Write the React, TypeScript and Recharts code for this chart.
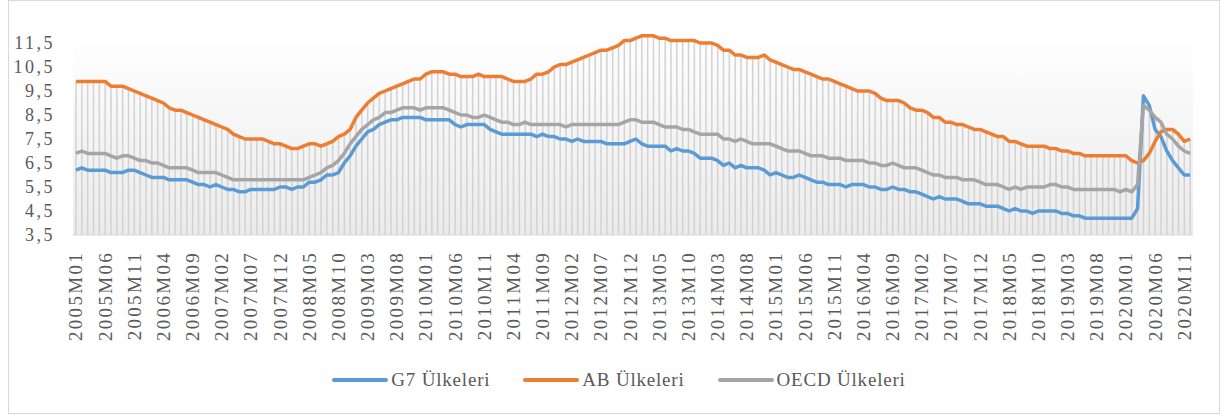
import React from 'react';
import { ComposedChart, Line, Bar, XAxis, YAxis, CartesianGrid, Legend } from 'recharts';

// Monthly categories 2005M01 .. 2020M12
const years: number[] = [2005, 2006, 2007, 2008, 2009, 2010, 2011, 2012, 2013, 2014, 2015, 2016, 2017, 2018, 2019, 2020];
const monthCodes: string[] = ['01', '02', '03', '04', '05', '06', '07', '08', '09', '10', '11', '12'];
const months: string[] = [];
years.forEach((y) => monthCodes.forEach((m) => months.push(`${y}M${m}`)));

const g7Values: number[] = [
  6.2, 6.3, 6.2, 6.2, 6.2, 6.2, 6.1, 6.1, 6.1, 6.2,
  6.2, 6.1, 6.0, 5.9, 5.9, 5.9, 5.8, 5.8, 5.8, 5.8,
  5.7, 5.6, 5.6, 5.5, 5.6, 5.5, 5.4, 5.4, 5.3, 5.3,
  5.4, 5.4, 5.4, 5.4, 5.4, 5.5, 5.5, 5.4, 5.5, 5.5,
  5.7, 5.7, 5.8, 6.0, 6.0, 6.1, 6.5, 6.8, 7.2, 7.5,
  7.8, 7.9, 8.1, 8.2, 8.3, 8.3, 8.4, 8.4, 8.4, 8.4,
  8.3, 8.3, 8.3, 8.3, 8.3, 8.1, 8.0, 8.1, 8.1, 8.1,
  8.1, 7.9, 7.8, 7.7, 7.7, 7.7, 7.7, 7.7, 7.7, 7.6,
  7.7, 7.6, 7.6, 7.5, 7.5, 7.4, 7.5, 7.4, 7.4, 7.4,
  7.4, 7.3, 7.3, 7.3, 7.3, 7.4, 7.5, 7.3, 7.2, 7.2,
  7.2, 7.2, 7.0, 7.1, 7.0, 7.0, 6.9, 6.7, 6.7, 6.7,
  6.6, 6.4, 6.5, 6.3, 6.4, 6.3, 6.3, 6.3, 6.2, 6.0,
  6.1, 6.0, 5.9, 5.9, 6.0, 5.9, 5.8, 5.7, 5.7, 5.6,
  5.6, 5.6, 5.5, 5.6, 5.6, 5.6, 5.5, 5.5, 5.4, 5.4,
  5.5, 5.4, 5.4, 5.3, 5.3, 5.2, 5.1, 5.0, 5.1, 5.0,
  5.0, 5.0, 4.9, 4.8, 4.8, 4.8, 4.7, 4.7, 4.7, 4.6,
  4.5, 4.6, 4.5, 4.5, 4.4, 4.5, 4.5, 4.5, 4.5, 4.4,
  4.4, 4.3, 4.3, 4.2, 4.2, 4.2, 4.2, 4.2, 4.2, 4.2,
  4.2, 4.2, 4.6, 9.3, 8.9, 7.9, 7.6, 7.0, 6.6, 6.3,
  6.0, 6.0,
];

const abValues: number[] = [
  9.9, 9.9, 9.9, 9.9, 9.9, 9.9, 9.7, 9.7, 9.7, 9.6,
  9.5, 9.4, 9.3, 9.2, 9.1, 9.0, 8.8, 8.7, 8.7, 8.6,
  8.5, 8.4, 8.3, 8.2, 8.1, 8.0, 7.9, 7.7, 7.6, 7.5,
  7.5, 7.5, 7.5, 7.4, 7.3, 7.3, 7.2, 7.1, 7.1, 7.2,
  7.3, 7.3, 7.2, 7.3, 7.4, 7.6, 7.7, 7.9, 8.4, 8.7,
  9.0, 9.2, 9.4, 9.5, 9.6, 9.7, 9.8, 9.9, 10.0, 10.0,
  10.2, 10.3, 10.3, 10.3, 10.2, 10.2, 10.1, 10.1, 10.1, 10.2,
  10.1, 10.1, 10.1, 10.1, 10.0, 9.9, 9.9, 9.9, 10.0, 10.2,
  10.2, 10.3, 10.5, 10.6, 10.6, 10.7, 10.8, 10.9, 11.0, 11.1,
  11.2, 11.2, 11.3, 11.4, 11.6, 11.6, 11.7, 11.8, 11.8, 11.8,
  11.7, 11.7, 11.6, 11.6, 11.6, 11.6, 11.6, 11.5, 11.5, 11.5,
  11.4, 11.2, 11.2, 11.0, 11.0, 10.9, 10.9, 10.9, 11.0, 10.8,
  10.7, 10.6, 10.5, 10.4, 10.4, 10.3, 10.2, 10.1, 10.0, 10.0,
  9.9, 9.8, 9.7, 9.6, 9.5, 9.5, 9.5, 9.4, 9.2, 9.1,
  9.1, 9.1, 9.0, 8.8, 8.7, 8.7, 8.6, 8.4, 8.4, 8.2,
  8.2, 8.1, 8.1, 8.0, 7.9, 7.9, 7.8, 7.7, 7.6, 7.6,
  7.4, 7.4, 7.3, 7.2, 7.2, 7.2, 7.2, 7.1, 7.1, 7.0,
  7.0, 6.9, 6.9, 6.8, 6.8, 6.8, 6.8, 6.8, 6.8, 6.8,
  6.8, 6.6, 6.5, 6.6, 6.9, 7.4, 7.8, 7.9, 7.9, 7.7,
  7.4, 7.5,
];

const oecdValues: number[] = [
  6.9, 7.0, 6.9, 6.9, 6.9, 6.9, 6.8, 6.7, 6.8, 6.8,
  6.7, 6.6, 6.6, 6.5, 6.5, 6.4, 6.3, 6.3, 6.3, 6.3,
  6.2, 6.1, 6.1, 6.1, 6.1, 6.0, 5.9, 5.8, 5.8, 5.8,
  5.8, 5.8, 5.8, 5.8, 5.8, 5.8, 5.8, 5.8, 5.8, 5.8,
  5.9, 6.0, 6.1, 6.3, 6.4, 6.6, 6.9, 7.3, 7.6, 7.9,
  8.1, 8.3, 8.4, 8.6, 8.6, 8.7, 8.8, 8.8, 8.8, 8.7,
  8.8, 8.8, 8.8, 8.8, 8.7, 8.6, 8.5, 8.5, 8.4, 8.4,
  8.5, 8.4, 8.3, 8.2, 8.2, 8.1, 8.1, 8.2, 8.1, 8.1,
  8.1, 8.1, 8.1, 8.1, 8.0, 8.1, 8.1, 8.1, 8.1, 8.1,
  8.1, 8.1, 8.1, 8.1, 8.2, 8.3, 8.3, 8.2, 8.2, 8.2,
  8.1, 8.0, 8.0, 8.0, 7.9, 7.9, 7.8, 7.7, 7.7, 7.7,
  7.7, 7.5, 7.5, 7.4, 7.5, 7.4, 7.3, 7.3, 7.3, 7.3,
  7.2, 7.1, 7.0, 7.0, 7.0, 6.9, 6.8, 6.8, 6.8, 6.7,
  6.7, 6.7, 6.6, 6.6, 6.6, 6.6, 6.5, 6.5, 6.4, 6.4,
  6.5, 6.4, 6.3, 6.3, 6.3, 6.2, 6.1, 6.0, 6.0, 5.9,
  5.9, 5.9, 5.8, 5.8, 5.8, 5.7, 5.6, 5.6, 5.6, 5.5,
  5.4, 5.5, 5.4, 5.5, 5.5, 5.5, 5.5, 5.6, 5.6, 5.5,
  5.5, 5.4, 5.4, 5.4, 5.4, 5.4, 5.4, 5.4, 5.4, 5.3,
  5.4, 5.3, 5.6, 8.9, 8.7, 8.4, 8.2, 7.7, 7.5, 7.2,
  7.0, 6.9,
];

const yTicks: number[] = [3.5, 4.5, 5.5, 6.5, 7.5, 8.5, 9.5, 10.5, 11.5];

const seriesInfo = [
  { key: 'g7', name: 'G7 Ülkeleri', color: '#5B9BD5' },
  { key: 'ab', name: 'AB Ülkeleri', color: '#ED7D31' },
  { key: 'oecd', name: 'OECD Ülkeleri', color: '#A5A5A5' },
];

const data = months.map((m, i) => ({
  month: m,
  g7: g7Values[i],
  ab: abValues[i],
  oecd: oecdValues[i],
  top: Math.max(g7Values[i], abValues[i], oecdValues[i]),
}));

const FONT = '"Liberation Serif", "Times New Roman", serif';
const TEXT = '#595959';

const XTick = (props: any) => {
  const { x, y, payload } = props;
  const ay = y + 16;
  return (
    <text
      x={x}
      y={ay}
      transform={`rotate(-90 ${x} ${ay})`}
      textAnchor="end"
      dominantBaseline="central"
      fill={TEXT}
      fontSize={19}
      fontFamily={FONT}
      letterSpacing="2.3px"
    >
      {payload.value}
    </text>
  );
};

const YTick = (props: any) => {
  const { x, y, payload } = props;
  return (
    <text
      x={x}
      y={y}
      dy="0.355em"
      textAnchor="end"
      fill={TEXT}
      fontSize={18}
      fontFamily={FONT}
      letterSpacing="2.5px"
    >
      {Number(payload.value).toFixed(1).replace('.', ',')}
    </text>
  );
};

const DropLine = (props: any) => {
  const { x, y, width, height } = props;
  if (x == null || y == null) return null;
  const cx = x + width / 2;
  return <line x1={cx} y1={y} x2={cx} y2={y + height} stroke="#d2d2d2" strokeWidth={1.5} />;
};

const renderLegend = () => (
  <div
    style={{
      display: 'flex',
      justifyContent: 'center',
      alignItems: 'center',
      height: 40,
      paddingLeft: 10,
      fontFamily: FONT,
      fontSize: 19,
      color: TEXT,
      letterSpacing: '0.8px',
      gap: 33,
    }}
  >
    {seriesInfo.map((s) => (
      <div key={s.key} style={{ display: 'flex', alignItems: 'center' }}>
        <svg width={56} height={10}>
          <line x1={2} y1={5} x2={54} y2={5} stroke={s.color} strokeWidth={4} strokeLinecap="round" />
        </svg>
        <span style={{ marginLeft: 3 }}>{s.name}</span>
      </div>
    ))}
  </div>
);

export default function App() {
  return (
    <div
      style={{
        position: 'absolute',
        left: 8,
        top: 0,
        width: 1212,
        height: 414,
        border: '1px solid #d9d9d9',
        boxSizing: 'border-box',
        background: '#ffffff',
      }}
    >
      <div style={{ position: 'absolute', left: -1, top: -1 }}>
        <ComposedChart
          width={1212}
          height={414}
          data={data}
          margin={{ top: 31, right: 27, bottom: 14, left: 0 }}
          barCategoryGap={0}
        >
          <defs>
            <linearGradient id="plotBg" x1="0" y1="0" x2="0" y2="1">
              <stop offset="0%" stopColor="#ffffff" />
              <stop offset="100%" stopColor="#ebebeb" />
            </linearGradient>
          </defs>
          <CartesianGrid horizontal={false} vertical={false} fill="url(#plotBg)" stroke="none" />
          <XAxis
            dataKey="month"
            interval={4}
            height={125}
            tickLine={false}
            tickSize={0}
            tickMargin={0}
            axisLine={{ stroke: '#d9d9d9', strokeWidth: 1 }}
            tick={<XTick />}
          />
          <YAxis
            domain={[3.5, 12]}
            ticks={yTicks}
            interval={0}
            allowDataOverflow
            width={65}
            axisLine={false}
            tickLine={false}
            tickSize={0}
            tickMargin={18}
            tick={<YTick />}
          />
          <Bar dataKey="top" shape={DropLine} isAnimationActive={false} legendType="none" />
          {seriesInfo.map((s) => (
            <Line
              key={s.key}
              type="linear"
              dataKey={s.key}
              name={s.name}
              stroke={s.color}
              strokeWidth={3.5}
              strokeLinejoin="round"
              dot={false}
              activeDot={false}
              isAnimationActive={false}
            />
          ))}
          <Legend
            verticalAlign="bottom"
            height={40}
            content={renderLegend}
            wrapperStyle={{ left: 0, width: 1212 }}
          />
        </ComposedChart>
      </div>
    </div>
  );
}
